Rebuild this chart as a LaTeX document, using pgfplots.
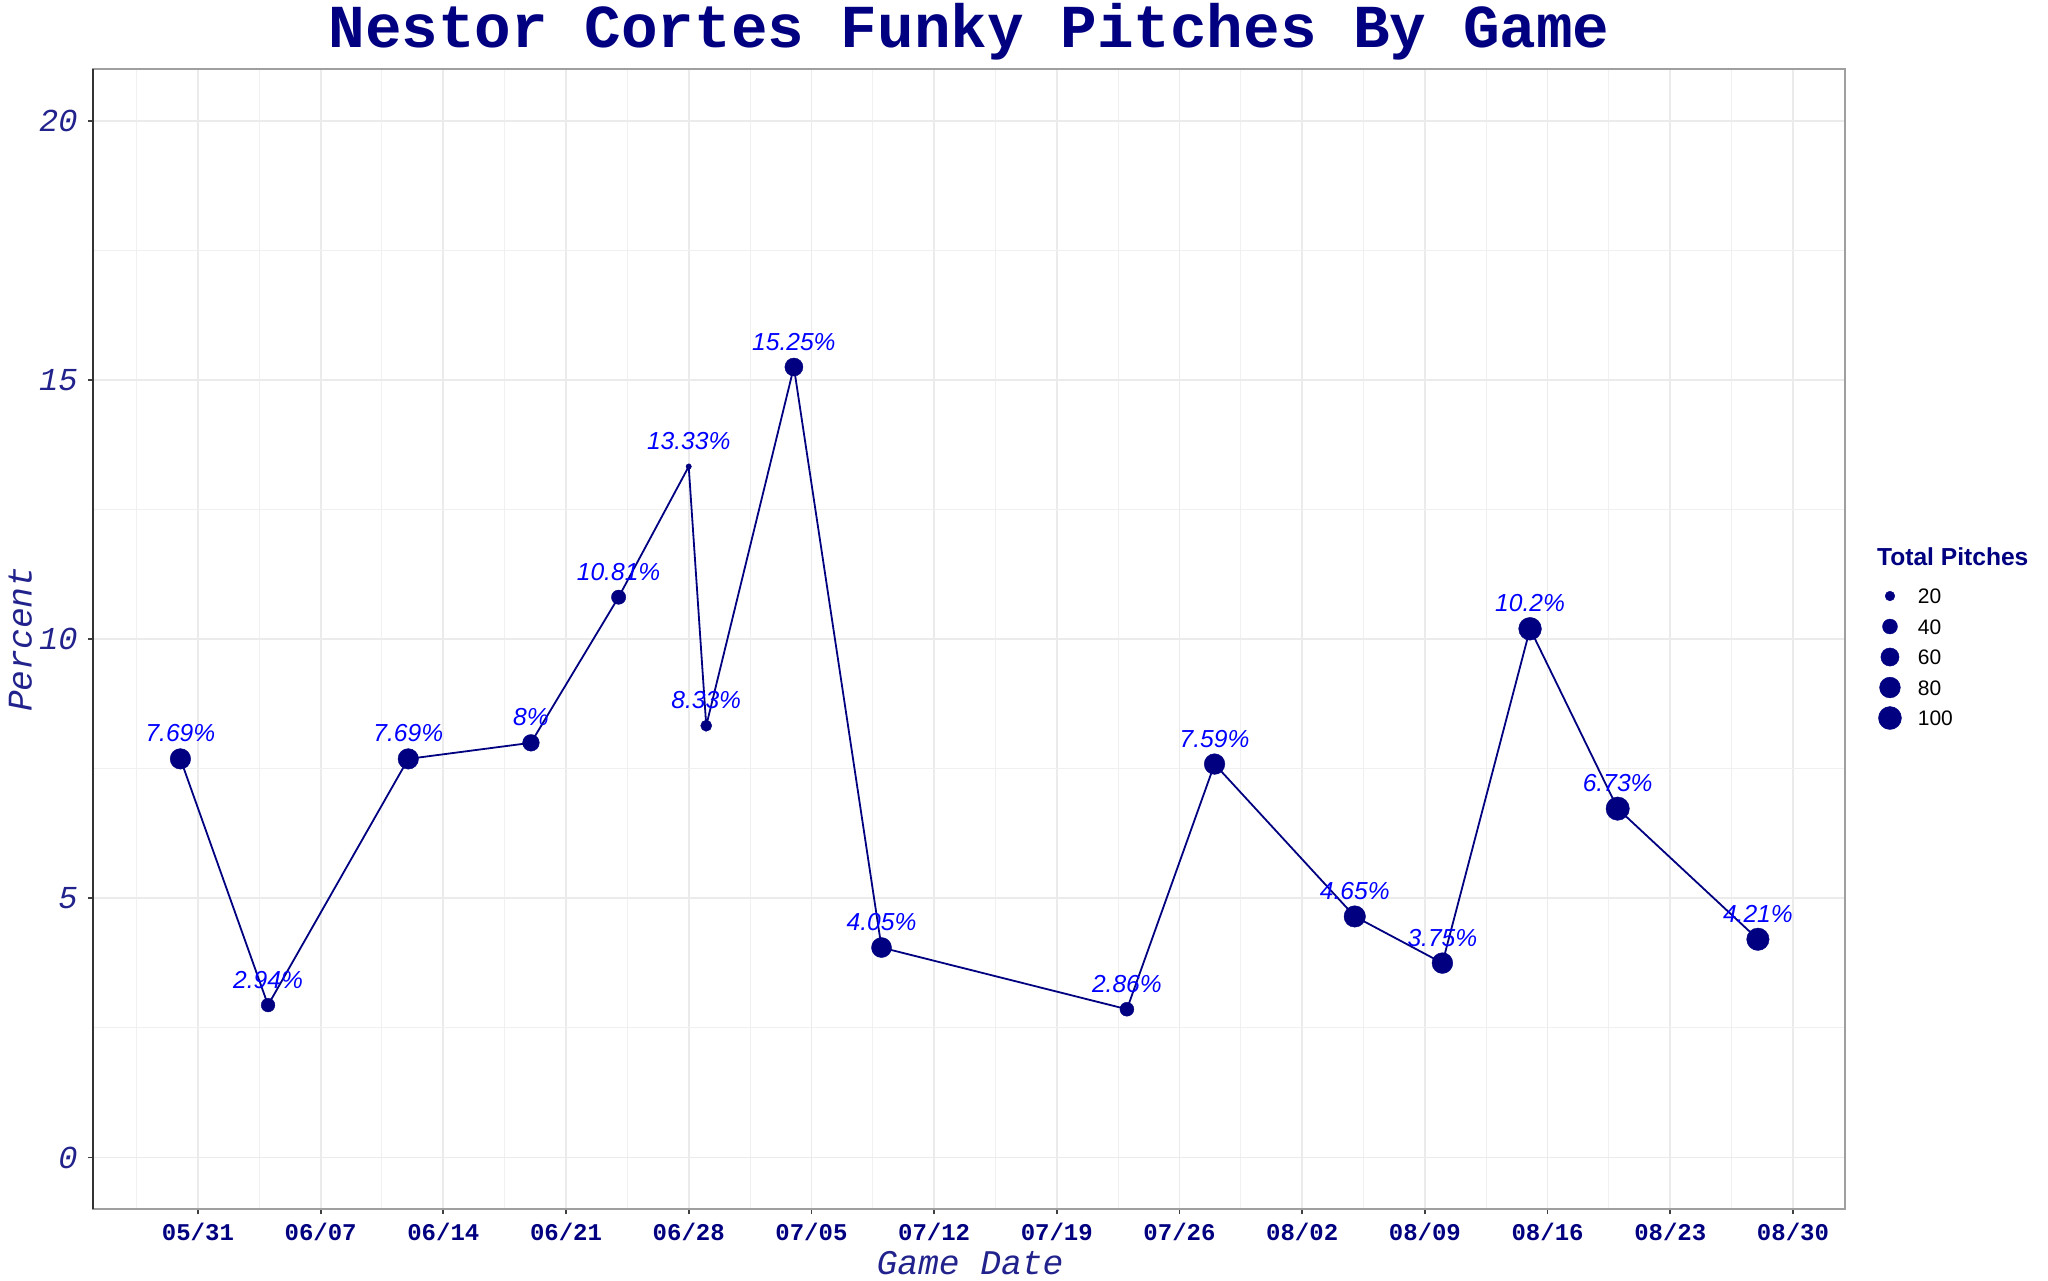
\documentclass[border=0pt]{standalone}
\usepackage{fontspec}
\setmainfont{Liberation Sans}
\newfontfamily\monof{Liberation Mono}
\usepackage{pgfplots}
\pgfplotsset{compat=1.18}
\usepackage{pgfplotstable}
\definecolor{navy}{HTML}{000080}
\definecolor{lblblue}{HTML}{0000FF}
\definecolor{axnavy}{HTML}{22228C}

% x = days after 05/31, y = percent funky pitches, n = total pitches
\pgfplotstableread{
x y n
-1 7.69 78
4 2.94 34
12 7.69 78
19 8 50
24 10.81 37
28 13.33 15
29 8.33 24
34 15.25 59
39 4.05 74
53 2.86 35
58 7.59 79
66 4.65 86
71 3.75 80
76 10.2 98
81 6.73 104
89 4.21 95
}\games

\begin{document}
\begin{tikzpicture}
\useasboundingbox (0,0) rectangle (1024pt,640pt);
\begin{axis}[
  at={(46.65pt,35.35pt)}, anchor=south west,
  scale only axis, width=875.85pt, height=570.15pt,
  xmin=-5.97, xmax=93.97, ymin=-1, ymax=21,
  xtick={0,7,...,91},
  xticklabels={05/31,06/07,06/14,06/21,06/28,07/05,07/12,07/19,07/26,08/02,08/09,08/16,08/23,08/30},
  minor xtick={-3.5,3.5,...,87.5},
  ytick={0,5,10,15,20}, yticklabels={0,5,10,15,20},
  minor ytick={2.5,7.5,12.5,17.5},
  grid=both,
  major grid style={line width=0.9pt, color=gray!16},
  minor grid style={line width=0.5pt, color=gray!12},
  tick align=outside, tick pos=left,
  major tick length=2.5pt, minor tick length=0pt,
  tick style={line width=0.9pt, color=black!75},
  axis line style={line width=0.9pt, color=gray!75},
  xticklabel style={font=\monof\bfseries\fontsize{12}{12}\selectfont, text=navy, anchor=base, yshift=-12.85pt},
  yticklabel style={font=\monof\itshape\fontsize{16}{16}\selectfont, text=axnavy, anchor=east, inner sep=0pt, xshift=-5.15pt},
  legend style={at={(1.0191,0.5512)}, anchor=north west, draw=none, fill=none,
    inner sep=0pt, outer sep=0pt, font=\fontsize{10.5}{11}\selectfont,
    /tikz/column sep=8.2pt, /tikz/row sep=0pt,
    nodes={inner sep=0pt, text height=11.38pt, text depth=3.87pt}},
  legend cell align=left,
  clip=false,
]
\addplot[forget plot, draw=none, mark=none,
  nodes near coords={\pgfmathprintnumber[fixed,precision=2,assume math mode=true]{\pgfplotspointmeta}\%},
  point meta=y,
  every node near coord/.append style={anchor=base, yshift=8.5pt, inner sep=0pt,
    font=\itshape\fontsize{12.3}{12.3}\selectfont, text=lblblue}]
  table[x=x,y=y] {\games};
\addplot[forget plot, navy, line width=0.9pt, mark=none] table[x=x,y=y] {\games};
\addplot[forget plot, only marks, mark=*, scatter,
  scatter/use mapped color={draw=navy, fill=navy},
  visualization depends on={\thisrow{n}\as\npitch},
  scatter/@pre marker code/.append style={/tikz/mark size={0.9*(1.5+5*sqrt((\npitch-15)/89))}},
  mark options={line width=0.2pt}]
  table[x=x,y=y] {\games};

\addlegendimage{only marks, mark=*, navy, mark size=2.42pt, mark options={line width=0.2pt}}
\addlegendentry{20}
\addlegendimage{only marks, mark=*, navy, mark size=3.735pt, mark options={line width=0.2pt}}
\addlegendentry{40}
\addlegendimage{only marks, mark=*, navy, mark size=4.55pt, mark options={line width=0.2pt}}
\addlegendentry{60}
\addlegendimage{only marks, mark=*, navy, mark size=5.196pt, mark options={line width=0.2pt}}
\addlegendentry{80}
\addlegendimage{only marks, mark=*, navy, mark size=5.748pt, mark options={line width=0.2pt}}
\addlegendentry{100}

\draw[black!80, line width=0.9pt] (rel axis cs:0,0) -- (rel axis cs:0,1);

\node[anchor=base west, inner sep=0pt, font=\bfseries\fontsize{12.3}{12.3}\selectfont, text=navy]
  at (axis description cs:1.0181,0.5650) {Total Pitches};
\node[anchor=base, inner sep=0pt, font=\monof\bfseries\fontsize{30.5}{30.5}\selectfont, text=navy]
  at (axis description cs:0.5,1.01885) {Nestor Cortes Funky Pitches By Game};
\node[anchor=base, inner sep=0pt, font=\monof\itshape\fontsize{17.3}{17.3}\selectfont, text=axnavy]
  at (axis description cs:0.5005,-0.05674) {Game Date};
\node[anchor=base, rotate=90, inner sep=0pt, font=\monof\itshape\fontsize{17.3}{17.3}\selectfont, text=axnavy]
  at (axis description cs:-0.03517,0.5) {Percent};
\end{axis}
\end{tikzpicture}
\end{document}
